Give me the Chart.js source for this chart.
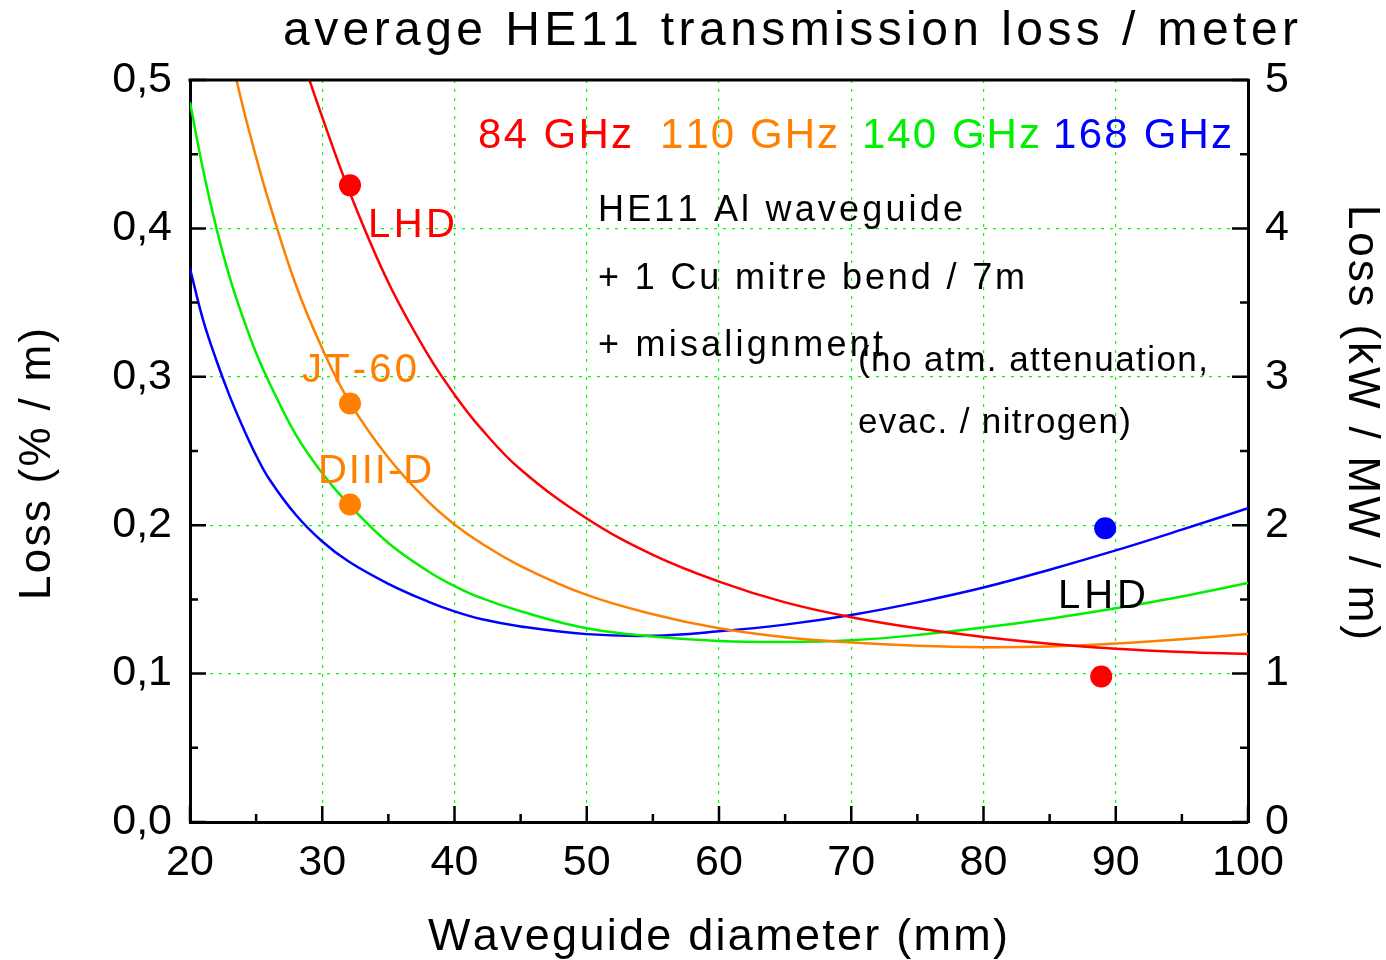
<!DOCTYPE html>
<html>
<head>
<meta charset="utf-8">
<script src="https://cdn.jsdelivr.net/npm/chart.js@4"></script>
<style>
  html, body { margin: 0; padding: 0; background: #fff; }
  canvas { display: block; }
</style>
</head>
<body>
<canvas id="chart" width="1386" height="960"></canvas>
<script>
var diam = [20, 21, 22, 23, 24, 25, 26, 28, 30, 32, 35, 38, 40, 42, 45, 50, 55, 60, 65, 70, 75, 80, 85, 90, 95, 100];

// loss in % / m for each frequency, null = not drawn there
var loss84  = [null, null, null, null, null, null, null, 0.527, 0.475, 0.426, 0.3635, 0.3147, 0.288, 0.2652, 0.2375, 0.2045, 0.180, 0.162, 0.148, 0.138, 0.1305, 0.1247, 0.1201, 0.1167, 0.1145, 0.1132];
var loss110 = [null, null, 0.562, 0.520, 0.482, 0.448, 0.417, 0.362, 0.319, 0.284, 0.2455, 0.216, 0.2005, 0.188, 0.1725, 0.153, 0.140, 0.1305, 0.1245, 0.121, 0.1188, 0.1178, 0.1183, 0.1203, 0.1232, 0.1267];
var loss140 = [0.485, 0.439, 0.400, 0.367, 0.340, 0.316, 0.296, 0.261, 0.235, 0.214, 0.188, 0.169, 0.159, 0.151, 0.142, 0.1305, 0.125, 0.122, 0.1213, 0.1225, 0.126, 0.131, 0.137, 0.144, 0.152, 0.161];
var loss168 = [0.373, 0.338, 0.311, 0.287, 0.266, 0.247, 0.231, 0.207, 0.189, 0.1755, 0.1605, 0.1485, 0.1419, 0.1368, 0.1318, 0.1266, 0.1255, 0.1285, 0.133, 0.1395, 0.148, 0.158, 0.170, 0.183, 0.197, 0.2115];

// measured points (LHD, JT-60, DIII-D)
var redMarkX = [32.1, 88.9];
var redMarkY = [0.429, 0.098];
var orangeMarkX = [32.1, 32.1];
var orangeMarkY = [0.282, 0.214];
var blueMarkX = [89.2];
var blueMarkY = [0.198];

// axis ranges and tick steps
var xTicks = [20, 100, 10];
var yTicks = [0, 0.5, 0.1];
var y2Ticks = [0, 5, 1];

var RED = '#ff0000', ORANGE = '#ff8000', GREEN = '#00f000', BLUE = '#0000ff';
var FONT = '"Liberation Sans", Arial, sans-serif';

// text inside the plot, placed in data units (x = left edge, y = baseline), w = width in px
var notes = [
  { text: '84 GHz',  x: 41.78, y: 0.4542, w: 154, size: 42, color: RED },
  { text: '110 GHz', x: 55.54, y: 0.4542, w: 178, size: 42, color: ORANGE },
  { text: '140 GHz', x: 70.81, y: 0.4542, w: 178, size: 42, color: GREEN },
  { text: '168 GHz', x: 85.26, y: 0.4542, w: 179, size: 42, color: BLUE },
  { text: 'HE11 Al waveguide', x: 50.85, y: 0.405, w: 365, size: 36, color: '#000' },
  { text: '+ 1 Cu mitre bend / 7m', x: 50.85, y: 0.3592, w: 427, size: 36, color: '#000' },
  { text: '+ misalignment', x: 50.85, y: 0.3140, w: 285, size: 36, color: '#000' },
  { text: '(no atm. attenuation,', x: 70.51, y: 0.3039, w: 350, size: 35, color: '#000' },
  { text: 'evac. / nitrogen)', x: 70.51, y: 0.2621, w: 273, size: 35, color: '#000' },
  { text: 'LHD', x: 33.46, y: 0.3942, w: 87, size: 40, color: RED },
  { text: 'JT-60', x: 28.47, y: 0.2965, w: 115, size: 40, color: ORANGE },
  { text: 'DIII-D', x: 29.68, y: 0.2284, w: 114, size: 40, color: ORANGE },
  { text: 'LHD', x: 85.63, y: 0.1442, w: 88, size: 40, color: '#000' }
];

function pairs(xs, ys) {
  return xs.map(function (x, i) { return { x: x, y: ys[i] }; });
}

function curve(ys, color) {
  return {
    type: 'line', data: pairs(diam, ys), borderColor: color, borderWidth: 2.5,
    pointRadius: 0, tension: 0.4, fill: false, order: 1
  };
}

function marks(xs, ys, color) {
  return {
    type: 'scatter', data: pairs(xs, ys), backgroundColor: color, borderColor: color,
    pointRadius: 11, borderWidth: 0, showLine: false, order: 0
  };
}

// draw text char by char, spread to a given width
function drawSpaced(c, str, x, y, width) {
  var chars = Array.from(str), widths = [], total = 0;
  chars.forEach(function (ch) {
    var w = c.measureText(ch).width;
    widths.push(w);
    total += w;
  });
  var gap = chars.length > 1 ? (width - total) / (chars.length - 1) : 0;
  c.textAlign = 'left';
  c.textBaseline = 'alphabetic';
  chars.forEach(function (ch, i) {
    c.fillText(ch, x, y);
    x += widths[i] + gap;
  });
}

var decor = {
  id: 'decor',
  afterDraw: function (chart) {
    var c = chart.ctx, a = chart.chartArea;
    var sx = chart.scales.x, sy = chart.scales.y, sy2 = chart.scales.y2;
    var i, p;
    c.save();

    // top frame line
    c.strokeStyle = '#000';
    c.lineWidth = 3;
    c.beginPath();
    c.moveTo(a.left - 1.5, a.top);
    c.lineTo(a.right + 1.5, a.top);
    c.stroke();

    // inward tick marks, major and minor
    c.lineWidth = 2.5;
    c.beginPath();
    for (i = 0; i <= 16; i++) {
      p = sx.getPixelForValue(20 + i * 5);
      c.moveTo(p, a.bottom);
      c.lineTo(p, a.bottom - (i % 2 ? 8 : 16));
    }
    for (i = 0; i <= 10; i++) {
      p = sy.getPixelForValue(i * 0.05);
      c.moveTo(a.left, p);
      c.lineTo(a.left + (i % 2 ? 8 : 16), p);
      p = sy2.getPixelForValue(i * 0.5);
      c.moveTo(a.right, p);
      c.lineTo(a.right - (i % 2 ? 8 : 16), p);
    }
    c.stroke();

    // notes inside the plot
    notes.forEach(function (n) {
      c.font = n.size + 'px ' + FONT;
      c.fillStyle = n.color;
      drawSpaced(c, n.text, sx.getPixelForValue(n.x), sy.getPixelForValue(n.y), n.w);
    });

    // title and axis titles
    c.fillStyle = '#000';
    c.font = '48px ' + FONT;
    drawSpaced(c, 'average HE11 transmission loss / meter', 283, 45, 1015);

    c.font = '45px ' + FONT;
    drawSpaced(c, 'Waveguide diameter (mm)', 428, 950, 580);

    c.save();
    c.font = '44px ' + FONT;
    c.translate(50, 600);
    c.rotate(-Math.PI / 2);
    drawSpaced(c, 'Loss (% / m)', 0, 0, 272);
    c.restore();

    c.save();
    c.font = '44px ' + FONT;
    c.translate(1349, 205);
    c.rotate(Math.PI / 2);
    drawSpaced(c, 'Loss (kW / MW / m)', 0, 0, 435);
    c.restore();

    c.restore();
  }
};

var gridStyle = { color: '#00ff00', lineWidth: 1.2, drawTicks: false };
var borderStyle = { display: true, color: '#000', width: 3, dash: [3, 6] };
var tickFont = { family: FONT, size: 43 };

new Chart(document.getElementById('chart'), {
  type: 'line',
  data: {
    datasets: [
      marks(redMarkX, redMarkY, RED),
      marks(orangeMarkX, orangeMarkY, ORANGE),
      marks(blueMarkX, blueMarkY, BLUE),
      curve(loss84, RED),
      curve(loss110, ORANGE),
      curve(loss140, GREEN),
      curve(loss168, BLUE)
    ]
  },
  options: {
    responsive: false,
    animation: false,
    devicePixelRatio: 1,
    layout: { padding: { top: 80, left: 0, right: 0, bottom: 0 } },
    plugins: {
      legend: { display: false },
      tooltip: { enabled: false },
      title: { display: false }
    },
    scales: {
      x: {
        type: 'linear', position: 'bottom',
        min: xTicks[0], max: xTicks[1],
        ticks: { stepSize: xTicks[2], color: '#000', font: tickFont, padding: 15, maxRotation: 0 },
        grid: gridStyle, border: borderStyle,
        afterFit: function (s) { s.height = 138; }
      },
      y: {
        type: 'linear', position: 'left',
        min: yTicks[0], max: yTicks[1],
        ticks: {
          stepSize: yTicks[2], color: '#000', font: tickFont, padding: 18,
          callback: function (v) { return Number(v).toFixed(1).replace('.', ','); }
        },
        grid: gridStyle, border: borderStyle,
        afterFit: function (s) { s.width = 190; }
      },
      y2: {
        type: 'linear', position: 'right',
        min: y2Ticks[0], max: y2Ticks[1],
        ticks: { stepSize: y2Ticks[2], color: '#000', font: tickFont, padding: 17 },
        grid: { drawOnChartArea: false, drawTicks: false },
        border: { display: true, color: '#000', width: 3 },
        afterFit: function (s) { s.width = 138; }
      }
    }
  },
  plugins: [decor]
});
</script>
</body>
</html>
